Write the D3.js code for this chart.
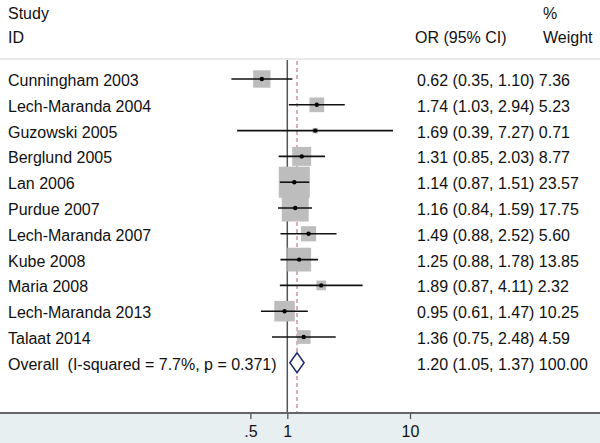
<!DOCTYPE html>
<html>
<head>
<meta charset="utf-8">
<script src="https://cdn.jsdelivr.net/npm/d3@7"></script>
<style>
  body { margin: 0; background: #fff; }
  text { font-family: "Liberation Sans", Arial, sans-serif; font-size: 16px; fill: #111; white-space: pre; }
</style>
</head>
<body>
<svg id="forest" width="600" height="443"></svg>
<script>
// study data
const studies = ["Cunningham 2003", "Lech-Maranda 2004", "Guzowski 2005", "Berglund 2005",
  "Lan 2006", "Purdue 2007", "Lech-Maranda 2007", "Kube 2008", "Maria 2008",
  "Lech-Maranda 2013", "Talaat 2014"];
const or = [0.62, 1.74, 1.69, 1.31, 1.14, 1.16, 1.49, 1.25, 1.89, 0.95, 1.36];
const lower = [0.35, 1.03, 0.39, 0.85, 0.87, 0.84, 0.88, 0.88, 0.87, 0.61, 0.75];
const upper = [1.10, 2.94, 7.27, 2.03, 1.51, 1.59, 2.52, 1.78, 4.11, 1.47, 2.48];
const weight = [7.36, 5.23, 0.71, 8.77, 23.57, 17.75, 5.60, 13.85, 2.32, 10.25, 4.59];
const overall = { label: "Overall  (I-squared = 7.7%, p = 0.371)", or: 1.20, lo: 1.05, hi: 1.37, w: 100.00 };
const tickValues = [0.5, 1, 10];
const tickLabels = [".5", "1", "10"];

let svg = d3.select("#forest");
const W = 600, H = 443;
const axisY = 413;
const topY = 59;
const rowStep = 25.8;

// background of axis strip
svg.append("rect").attr("x", 0).attr("y", axisY).attr("width", W).attr("height", H - axisY)
  .attr("fill", "#e8eff1");

let x = d3.scaleLog().domain([0.1, 10]).range([164.6, 410]);
let y = d3.scaleBand().domain(studies.concat([overall.label]))
  .range([79 - rowStep / 2, 79 - rowStep / 2 + rowStep * 12]);
let cy = (d) => y(d) + y.bandwidth() / 2;

// header
svg.append("text").attr("x", 8).attr("y", 19).text("Study");
svg.append("text").attr("x", 8).attr("y", 43).text("ID");
svg.append("text").attr("x", 415).attr("y", 43).text("OR (95% CI)");
svg.append("text").attr("x", 543).attr("y", 19).text("%");
svg.append("text").attr("x", 543).attr("y", 43).text("Weight");

svg.append("line").attr("x1", 0).attr("x2", W).attr("y1", topY).attr("y2", topY)
  .attr("stroke", "#d4d4d4").attr("stroke-width", 1);

// reference lines
svg.append("line").attr("x1", x(1)).attr("x2", x(1)).attr("y1", topY + 1).attr("y2", axisY)
  .attr("stroke", "#555").attr("stroke-width", 1.5);
svg.append("line").attr("x1", x(overall.or)).attr("x2", x(overall.or)).attr("y1", topY + 2).attr("y2", axisY)
  .attr("stroke", "#c88494").attr("stroke-width", 1.3).attr("stroke-dasharray", "4,3");

let rows = studies.map((s, i) => ({ s: s, or: or[i], lo: lower[i], hi: upper[i], w: weight[i] }));

let g = svg.append("g");
// weight boxes
g.selectAll(".box").data(rows).enter().append("rect")
  .attr("class", "box")
  .attr("x", (d) => x(d.or) - 3.2 * Math.sqrt(d.w))
  .attr("y", (d) => cy(d.s) - 3.2 * Math.sqrt(d.w))
  .attr("width", (d) => 6.4 * Math.sqrt(d.w))
  .attr("height", (d) => 6.4 * Math.sqrt(d.w))
  .attr("fill", "#bdbdbd");

// confidence intervals
g.selectAll(".ci").data(rows).enter().append("line")
  .attr("x1", (d) => x(d.lo)).attr("x2", (d) => x(d.hi))
  .attr("y1", (d) => cy(d.s)).attr("y2", (d) => cy(d.s))
  .attr("stroke", "#111").attr("stroke-width", 1.6);

// point estimates
g.selectAll(".pt").data(rows).enter().append("circle")
  .attr("cx", (d) => x(d.or)).attr("cy", (d) => cy(d.s)).attr("r", 2.2)
  .attr("fill", "#000");

// study labels and estimates
g.selectAll(".lab").data(rows).enter().append("text")
  .attr("x", 8).attr("y", (d) => cy(d.s) + 7).text((d) => d.s);
g.selectAll(".est").data(rows).enter().append("text")
  .attr("x", 417).attr("y", (d) => cy(d.s) + 7)
  .text((d) => d.or.toFixed(2) + " (" + d.lo.toFixed(2) + ", " + d.hi.toFixed(2) + ") " + d.w.toFixed(2));

// overall diamond
let oy = cy(overall.label);
svg.append("path")
  .attr("d", "M" + x(overall.lo) + "," + oy + "L" + x(overall.or) + "," + (oy - 10) +
    "L" + x(overall.hi) + "," + oy + "L" + x(overall.or) + "," + (oy + 10) + "Z")
  .attr("fill", "#fff").attr("stroke", "#1d2a6e").attr("stroke-width", 1.5);
svg.append("text").attr("x", 8).attr("y", oy + 7).text(overall.label);
svg.append("text").attr("x", 417).attr("y", oy + 7)
  .text(overall.or.toFixed(2) + " (" + overall.lo.toFixed(2) + ", " + overall.hi.toFixed(2) + ") " + overall.w.toFixed(2));

// axis
svg.append("line").attr("x1", 0).attr("x2", W).attr("y1", axisY).attr("y2", axisY)
  .attr("stroke", "#666").attr("stroke-width", 2);
let ax = svg.append("g").attr("transform", "translate(0," + axisY + ")")
  .call(d3.axisBottom(x).tickValues(tickValues).tickSize(6).tickPadding(7)
    .tickFormat((d, i) => tickLabels[i]));
ax.select(".domain").remove();
ax.selectAll(".tick line").attr("stroke", "#555").attr("stroke-width", 1.3);
ax.selectAll(".tick text").style("font-size", "16px").attr("fill", "#111")
  .style("font-family", "Liberation Sans, Arial, sans-serif");
</script>
</body>
</html>
